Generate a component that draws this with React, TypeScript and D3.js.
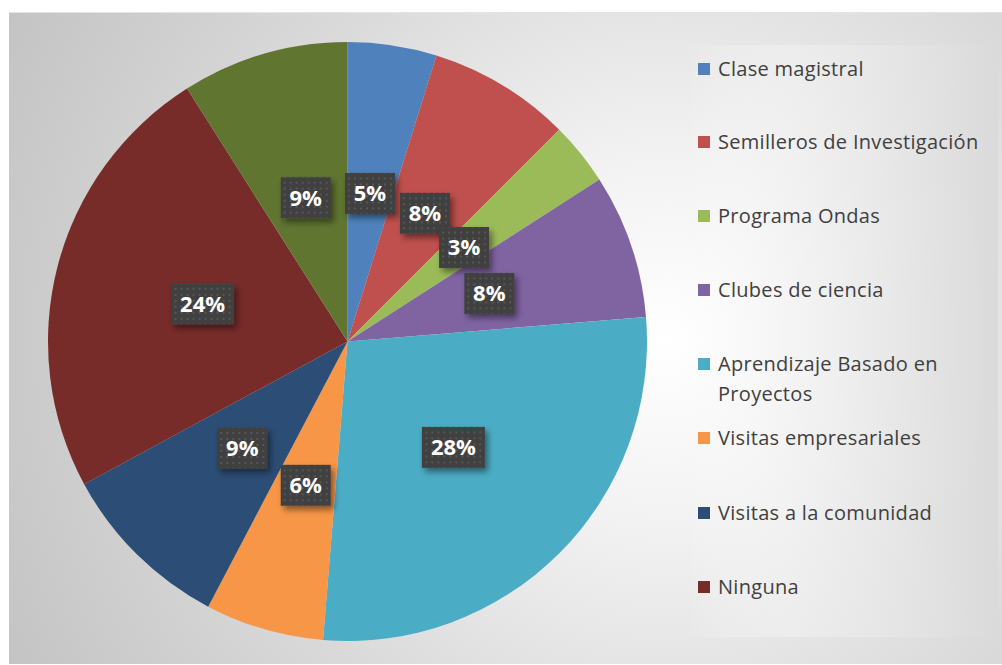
import React from "react";
import * as d3 from "d3";

const categories = [
  "Clase magistral",
  "Semilleros de Investigación",
  "Programa Ondas",
  "Clubes de ciencia",
  "Aprendizaje Basado en Proyectos",
  "Visitas empresariales",
  "Visitas a la comunidad",
  "Ninguna",
  "Otra",
];
const values = [4.8, 7.7, 3.4, 7.8, 27.6, 6.4, 9.4, 23.9, 9.0];
const labels = ["5%", "8%", "3%", "8%", "28%", "6%", "9%", "24%", "9%"];
const colors = ["#4f81bd", "#c0504d", "#9bbb59", "#8064a2", "#4bacc6", "#f79646", "#2c4d75", "#772c2a", "#5f7530"];
const legendLines = [
  ["Clase magistral"],
  ["Semilleros de Investigación"],
  ["Programa Ondas"],
  ["Clubes de ciencia"],
  ["Aprendizaje Basado en", "Proyectos"],
  ["Visitas empresariales"],
  ["Visitas a la comunidad"],
  ["Ninguna"],
];
const legendY = [69, 142, 216, 290, 364, 438, 513, 587];

export default function App() {
  const W = 1002, H = 665;
  const cx = 347.5, cy = 341.5, r = 299.5;
  const pie = d3.pie<number>().sort(null).value((d) => d);
  const arcs = pie(values);
  const arc = d3.arc<d3.PieArcDatum<number>>().innerRadius(0).outerRadius(r);
  const font = "'Open Sans', 'Noto Sans', sans-serif";
  return (
    <div style={{ position: "absolute", left: 0, top: 0 }}>
      <svg width={W} height={H} style={{ display: "block" }}>
        <defs>
          <radialGradient id="bg" gradientUnits="userSpaceOnUse" cx={665} cy={340} r={740}>
            <stop offset="0" stopColor="#ffffff" />
            <stop offset="0.25" stopColor="#f2f2f2" />
            <stop offset="0.6" stopColor="#dadada" />
            <stop offset="1" stopColor="#c3c3c3" />
          </radialGradient>
          <linearGradient id="leg" gradientUnits="userSpaceOnUse" x1={685} y1={0} x2={998} y2={0}>
            <stop offset="0" stopColor="#ffffff" stopOpacity="0" />
            <stop offset="0.35" stopColor="#f2f2f2" stopOpacity="0.55" />
            <stop offset="1" stopColor="#dadada" stopOpacity="1" />
          </linearGradient>
          <pattern id="dots" width="6" height="6" patternUnits="userSpaceOnUse">
            <rect width="6" height="6" fill="#404040" />
            <rect x="2" y="2" width="2" height="2" fill="#565656" />
          </pattern>
          <filter id="sh" x="-20%" y="-20%" width="150%" height="160%">
            <feDropShadow dx="3" dy="4" stdDeviation="3" floodColor="#000" floodOpacity="0.45" />
          </filter>
        </defs>
        <rect x={0} y={0} width={W} height={H} fill="#ffffff" />
        <rect x={9} y={12} width={W - 9} height={652} fill="url(#bg)" />
        <line x1={9} y1={12.5} x2={W} y2={12.5} stroke="#e4e4e4" strokeWidth={1} />
        <rect x={685} y={45} width={313} height={592} fill="url(#leg)" />
        <g transform={`translate(${cx},${cy})`}>
          {arcs.map((a, i) => (
            <path key={i} d={arc(a) || ""} fill={colors[i]} />
          ))}
          {arcs.map((a, i) => {
            const [x, y] = arc.centroid(a);
            const w = 24 + 13 * labels[i].length;
            const h = 41;
            return (
              <g key={"l" + i} transform={`translate(${x},${y})`}>
                <rect x={-w / 2} y={-h / 2} width={w} height={h} fill="url(#dots)" filter="url(#sh)" />
                <text
                  x={0}
                  y={0}
                  dy="0.36em"
                  textAnchor="middle"
                  fill="#ffffff"
                  fontFamily={font}
                  fontWeight={700}
                  fontSize={22}
                >
                  {labels[i]}
                </text>
              </g>
            );
          })}
        </g>
        <g>
          {legendLines.map((lines, i) => (
            <g key={"g" + i}>
              <rect x={698} y={legendY[i] - 6} width={12} height={12} fill={colors[i]} />
              {lines.map((t, j) => (
                <text
                  key={j}
                  x={718}
                  y={legendY[i] + j * 30}
                  dy="0.35em"
                  fill="#404040"
                  fontFamily={font}
                  fontSize={20}
                  letterSpacing={0.3}
                >
                  {t}
                </text>
              ))}
            </g>
          ))}
        </g>
      </svg>
    </div>
  );
}
